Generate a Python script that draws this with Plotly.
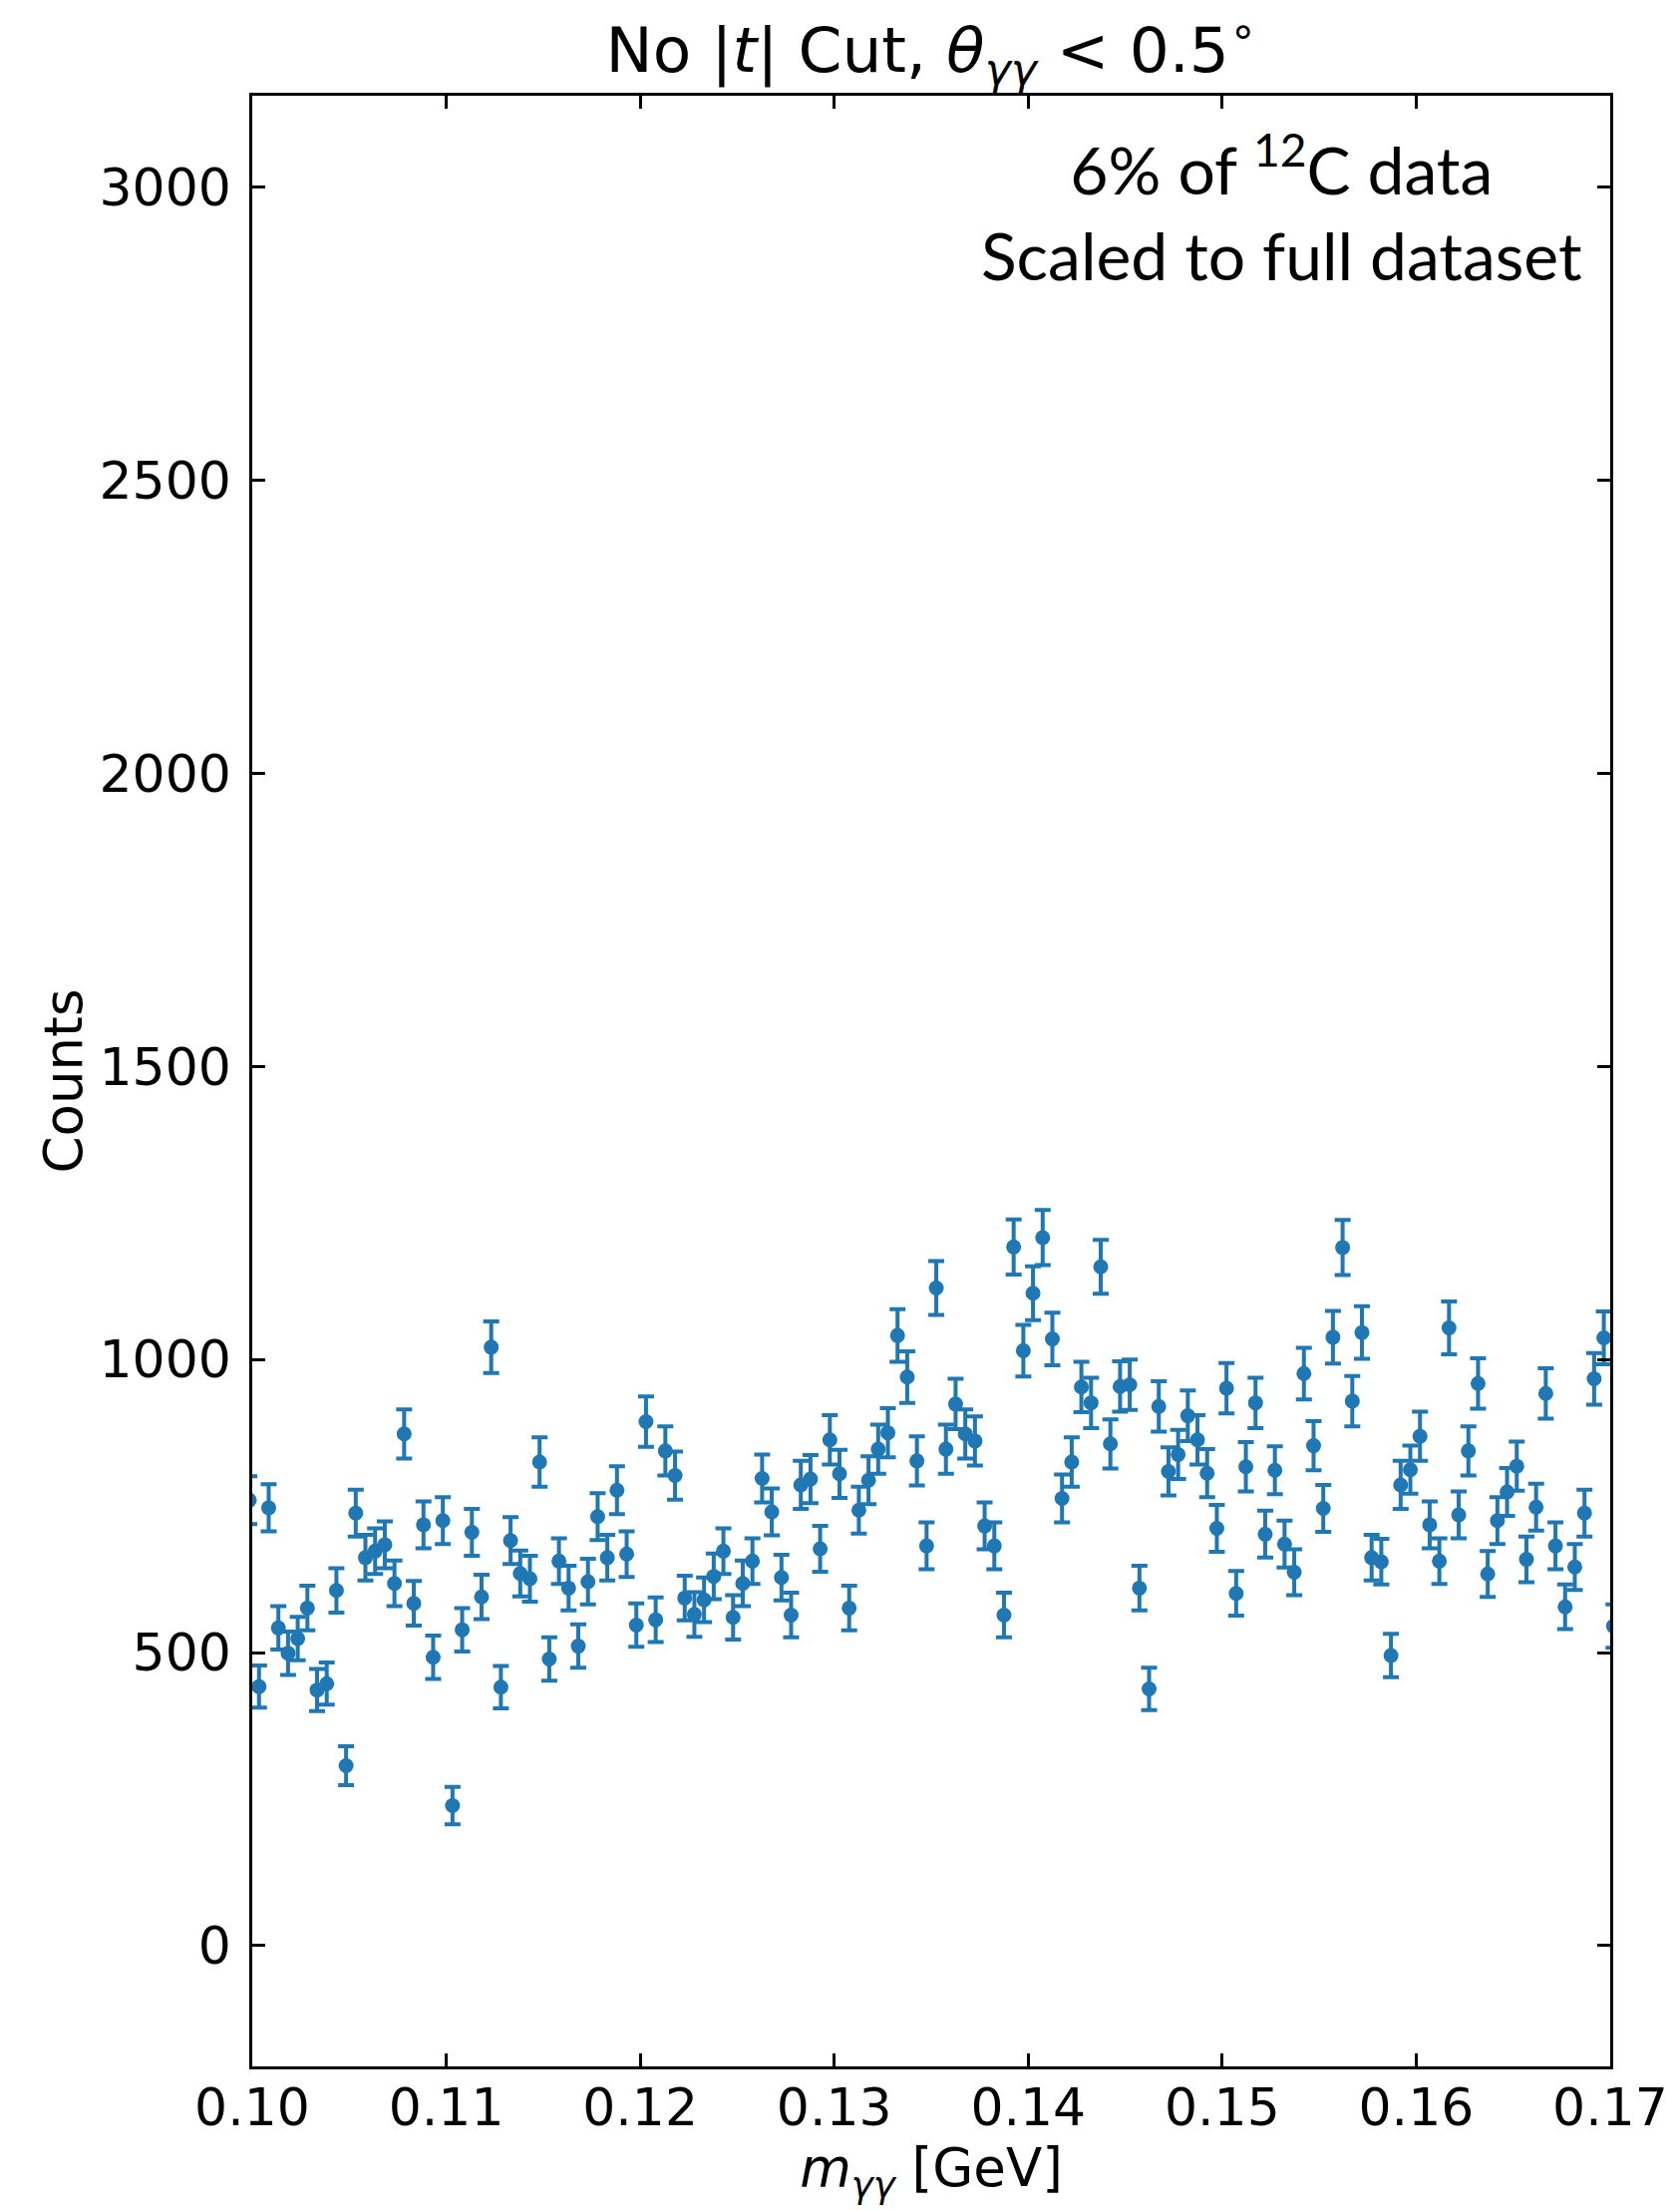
import numpy as np
import plotly.graph_objects as go

# ---- data ----
BIN_FIRST_CENTER = 0.09985
BIN_LAST_CENTER = 0.17017

counts = [760, 442, 747, 542, 499, 524, 576, 436, 447, 606,
          307, 738, 662, 673, 684, 618, 873, 584, 718, 492,
          725, 239, 539, 705, 595, 1021, 441, 691, 635, 626,
          825, 489, 656, 610, 511, 621, 732, 662, 777, 668,
          547, 894, 556, 844, 802, 593, 565, 590, 630, 673,
          560, 618, 656, 797, 740, 628, 564, 786, 796, 677,
          863, 805, 576, 743, 794, 847, 875, 1041, 970, 827,
          682, 1122, 847, 924, 873, 861, 716, 682, 564, 1192,
          1015, 1113, 1208, 1035, 763, 825, 953, 926, 1158, 856,
          954, 957, 610, 438, 920, 809, 838, 904, 863, 806,
          712, 951, 601, 817, 926, 702, 811, 685, 637, 976,
          853, 746, 1038, 1191, 929, 1046, 662, 655, 495, 786,
          812, 869, 718, 656, 1054, 735, 844, 959, 634, 725,
          774, 818, 659, 748, 942, 682, 578, 646, 738, 967,
          1037, 545]

errors = [41, 36, 40, 37, 37, 37, 38, 36, 36, 38,
          33, 40, 39, 39, 40, 39, 42, 38, 40, 37,
          40, 32, 37, 40, 38, 44, 36, 40, 39, 39,
          42, 37, 39, 38, 37, 39, 40, 39, 41, 39,
          37, 43, 38, 42, 41, 38, 38, 38, 39, 39,
          38, 39, 39, 41, 40, 39, 38, 41, 41, 39,
          42, 41, 38, 40, 41, 42, 42, 45, 44, 42,
          40, 46, 42, 43, 42, 42, 40, 40, 38, 47,
          44, 46, 47, 45, 41, 42, 43, 43, 46, 42,
          43, 43, 38, 36, 43, 41, 42, 43, 42, 41,
          40, 43, 38, 42, 43, 40, 41, 40, 39, 44,
          42, 40, 45, 47, 43, 45, 39, 39, 37, 41,
          41, 42, 40, 39, 45, 40, 42, 43, 39, 40,
          41, 42, 39, 40, 43, 40, 38, 39, 40, 44,
          45, 37]

mass = np.linspace(BIN_FIRST_CENTER, BIN_LAST_CENTER, len(counts))

X_TICKS = [0.10, 0.11, 0.12, 0.13, 0.14, 0.15, 0.16, 0.17]
X_TICK_LABELS = ["0.10", "0.11", "0.12", "0.13", "0.14", "0.15", "0.16", "0.17"]
Y_TICKS = [0, 500, 1000, 1500, 2000, 2500, 3000]
Y_TICK_LABELS = ["0", "500", "1000", "1500", "2000", "2500", "3000"]

TITLE = "No |<i>t</i>| Cut, <i>θ</i><sub><i>γγ</i></sub> &lt; 0.5<sup>∘</sup>"
X_LABEL = "<i>m</i><sub><i>γγ</i></sub> [GeV]"
Y_LABEL = "Counts"
NOTE = "6% of <sup>12</sup>C data<br>Scaled to full dataset"

BLUE = "#1f77b4"
FONT = "DejaVu Sans"

fig = go.Figure()
fig.add_trace(go.Scatter(
    x=mass, y=counts, mode="markers",
    marker=dict(color=BLUE, size=15),
    error_y=dict(type="data", array=errors, visible=True,
                 color=BLUE, thickness=4, width=8),
    cliponaxis=True, showlegend=False,
))

axis_common = dict(
    ticks="inside", ticklen=13, tickwidth=2.5, tickcolor="black",
    showline=True, linecolor="black", linewidth=2.5, mirror="ticks",
    showgrid=False, zeroline=False,
    tickfont=dict(family=FONT, size=52, color="black"),
)

fig.update_layout(
    width=1685, height=2216,
    margin=dict(l=253, r=68, t=96, b=144),
    paper_bgcolor="white", plot_bgcolor="white",
    font=dict(family=FONT, color="black"),
    title=dict(text=TITLE, x=0.5, xref="paper", xanchor="center",
               y=1 - 50 / 2216, yref="container", yanchor="middle",
               font=dict(family=FONT, size=63, color="black")),
    xaxis=dict(range=[0.10, 0.17], tickmode="array", tickvals=X_TICKS,
               ticktext=X_TICK_LABELS, ticklabelstandoff=-6,
               title=dict(text=X_LABEL, standoff=6,
                          font=dict(family=FONT, size=53, color="black")),
               **axis_common),
    yaxis=dict(range=[-206, 3156], tickmode="array", tickvals=Y_TICKS,
               ticktext=Y_TICK_LABELS, ticklabelstandoff=8,
               title=dict(text=Y_LABEL, standoff=0,
                          font=dict(family=FONT, size=53, color="black")),
               **axis_common),
    annotations=[dict(
        text=NOTE, xref="paper", yref="paper",
        x=(1287 - 253) / 1364, y=(2072 - 208) / 1976,
        xanchor="center", yanchor="middle", align="center",
        showarrow=False,
        font=dict(family="Lato", size=66, color="black"),
    )],
)

fig.write_html("out.html")
